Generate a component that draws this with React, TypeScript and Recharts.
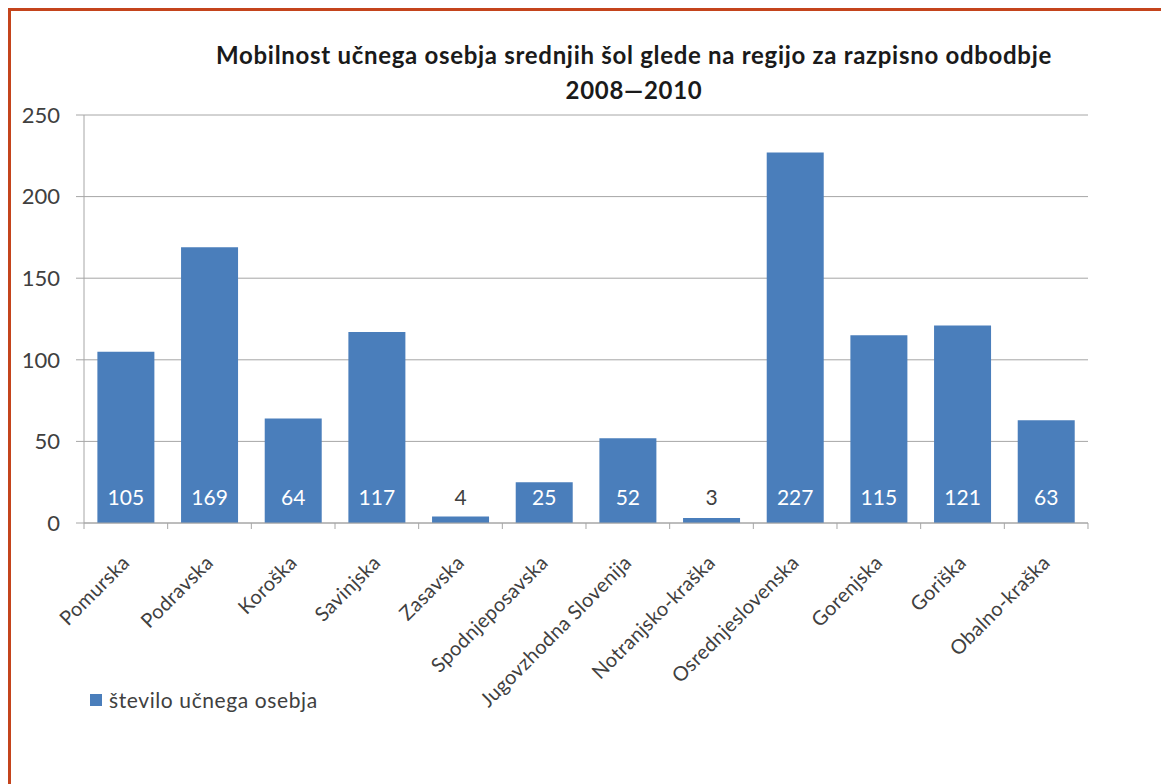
import * as React from "react";
import { BarChart, Bar, XAxis, YAxis, CartesianGrid, LabelList } from "recharts";

const regions = [
  "Pomurska",
  "Podravska",
  "Koroška",
  "Savinjska",
  "Zasavska",
  "Spodnjeposavska",
  "Jugovzhodna Slovenija",
  "Notranjsko-kraška",
  "Osrednjeslovenska",
  "Gorenjska",
  "Goriška",
  "Obalno-kraška",
];
const staff = [105, 169, 64, 117, 4, 25, 52, 3, 227, 115, 121, 63];
const yTicks = [0, 50, 100, 150, 200, 250];

const data = regions.map((name, i) => ({ name, value: staff[i] }));

const FONT = "Lato, 'Open Sans', sans-serif";
const BLUE = "#4a7ebb";
const GRAY_TEXT = "#404040";
const LINE = "#a6a6a6";

const CHART_W = 1158;
const CHART_H = 773;
const MARGIN = { top: 104, right: 81, bottom: 111, left: 13 };
const Y_AXIS_W = 60;
const PLOT_W = CHART_W - MARGIN.left - MARGIN.right - Y_AXIS_W;
const BAND = PLOT_W / regions.length;

function CategoryTick(props: any) {
  const { x, y, payload, index } = props;
  const last = index === regions.length - 1;
  return (
    <g transform={`translate(${x},${y})`}>
      <line x1={-BAND / 2} y1={0} x2={-BAND / 2} y2={6} stroke={LINE} />
      {last && <line x1={BAND / 2} y1={0} x2={BAND / 2} y2={6} stroke={LINE} />}
      <text
        x={5}
        y={41}
        transform="rotate(-45 5 41)"
        textAnchor="end"
        fill={GRAY_TEXT}
        fontSize={20}
        letterSpacing={0.3}
        fontFamily={FONT}
      >
        {payload.value}
      </text>
    </g>
  );
}

function ValueLabel(props: any) {
  const { x, y, width, height, value } = props;
  const base = y + height;
  const inside = height > 30;
  return (
    <text
      x={x + width / 2}
      y={base - 18}
      textAnchor="middle"
      fill={inside ? "#ffffff" : GRAY_TEXT}
      fontSize={21}
      fontFamily={FONT}
    >
      {value}
    </text>
  );
}

export default function App() {
  return (
    <div
      style={{
        position: "relative",
        width: 1161,
        height: 776,
        boxSizing: "border-box",
        borderTop: "3px solid #c4441c",
        borderLeft: "3px solid #c4441c",
        background: "#fff",
        fontFamily: FONT,
      }}
    >
      <div
        style={{
          position: "absolute",
          left: 0,
          width: 1246,
          top: 26,
          textAlign: "center",
          fontSize: 24,
          fontWeight: 700,
          letterSpacing: 0.7,
          lineHeight: "35px",
          color: "#1a1a1a",
        }}
      >
        Mobilnost učnega osebja srednjih šol glede na regijo za razpisno odbodbje
        <br />
        2008—2010
      </div>
      <BarChart
        width={CHART_W}
        height={CHART_H}
        data={data}
        margin={MARGIN}
        barCategoryGap="16%"
      >
        <CartesianGrid vertical={false} stroke={LINE} />
        <XAxis
          dataKey="name"
          interval={0}
          height={150}
          tickLine={false}
          tickSize={0}
          tickMargin={0}
          stroke={LINE}
          tick={<CategoryTick />}
        />
        <YAxis
          width={Y_AXIS_W}
          domain={[0, 250]}
          ticks={yTicks}
          tickSize={8}
          tickMargin={16}
          stroke={LINE}
          tick={{ fill: GRAY_TEXT, fontSize: 22, fontFamily: FONT }}
        />
        <Bar dataKey="value" fill={BLUE} isAnimationActive={false}>
          <LabelList dataKey="value" content={<ValueLabel />} />
        </Bar>
      </BarChart>
      <div
        style={{
          position: "absolute",
          left: 79,
          top: 676,
          display: "flex",
          alignItems: "center",
          fontSize: 21,
          letterSpacing: 0.6,
          color: GRAY_TEXT,
        }}
      >
        <span
          style={{
            display: "inline-block",
            width: 12,
            height: 12,
            background: BLUE,
            marginRight: 7,
          }}
        />
        število učnega osebja
      </div>
    </div>
  );
}
